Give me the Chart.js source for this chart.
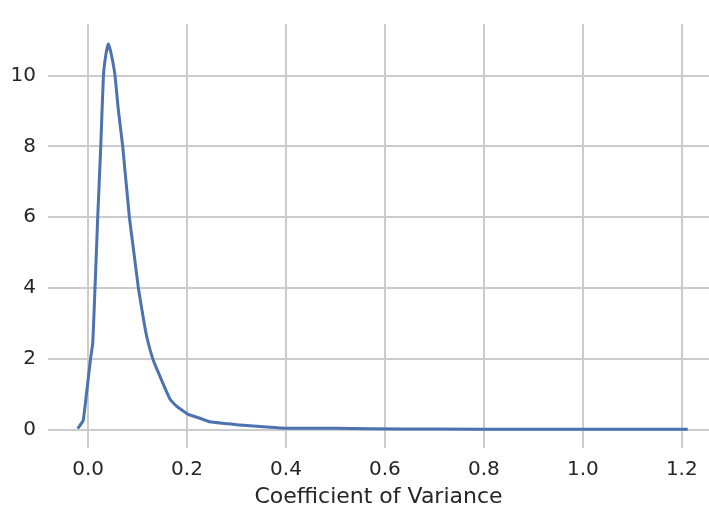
<!DOCTYPE html>
<html>
<head>
<meta charset="utf-8">
<script src="https://cdn.jsdelivr.net/npm/chart.js@4"></script>
<style>
  html, body { margin: 0; padding: 0; background: #fff; overflow: hidden; }
</style>
</head>
<body>
<canvas id="kdeChart" width="709" height="510"></canvas>
<script>
// KDE curve
const cvValues = [-0.021, -0.010, -0.005, 0.005, 0.0095, 0.014, 0.0195, 0.0256, 0.031, 0.036, 0.041, 0.047, 0.0545, 0.061, 0.070, 0.0835, 0.0926, 0.1017, 0.111, 0.1185, 0.132, 0.150, 0.166, 0.179, 0.2026, 0.226, 0.246, 0.30, 0.368, 0.40, 0.50, 0.57, 0.70, 0.90, 1.10, 1.212];
const density = [0.03, 0.25, 0.8, 2.0, 2.45, 4.0, 6.0, 8.0, 10.0, 10.6, 10.9, 10.6, 10.0, 9.05, 8.0, 6.0, 5.0, 4.0, 3.2, 2.63, 1.95, 1.35, 0.85, 0.66, 0.43, 0.32, 0.22, 0.14, 0.065, 0.04, 0.035, 0.025, 0.015, 0.01, 0.01, 0.01];
const xTicks = [0.0, 0.2, 0.4, 0.6, 0.8, 1.0, 1.2];
const yTicks = [0, 2, 4, 6, 8, 10];

const points = cvValues.map((x, i) => ({ x: x, y: density[i] }));
const textColor = '#262626';
const gridColor = '#cccccc';

const ctx = document.getElementById('kdeChart').getContext('2d');
new Chart(ctx, {
    type: 'line',
    data: {
        datasets: [{
            data: points,
            borderColor: '#4c72b0',
            borderWidth: 3,
            pointRadius: 0,
            tension: 0.1,
            fill: false
        }]
    },
    options: {
        responsive: false,
        animation: false,
        layout: { padding: { top: 12, left: 0, right: 0, bottom: 0 } },
        plugins: { legend: { display: false }, tooltip: { enabled: false } },
        scales: {
            x: {
                type: 'linear',
                min: -0.081,
                max: 1.255,
                afterBuildTicks: s => { s.ticks = xTicks.map(v => ({ value: v })); },
                afterFit: s => { s.height = 62; },
                grid: { color: gridColor, lineWidth: 2, drawTicks: false },
                border: { display: false },
                ticks: {
                    padding: 10,
                    color: textColor,
                    font: { family: 'DejaVu Sans', size: 20 },
                    callback: v => v.toFixed(1)
                },
                title: {
                    display: true,
                    text: 'Coefficient of Variance',
                    color: textColor,
                    font: { family: 'DejaVu Sans', size: 22 },
                    padding: { top: 2, bottom: 0 }
                }
            },
            y: {
                min: -0.52,
                max: 11.46,
                afterBuildTicks: s => { s.ticks = yTicks.map(v => ({ value: v })); },
                afterFit: s => { s.width = 48; },
                grid: { color: gridColor, lineWidth: 2, drawTicks: false },
                border: { display: false },
                ticks: {
                    padding: 12,
                    color: textColor,
                    font: { family: 'DejaVu Sans', size: 20 },
                    callback: v => String(v)
                }
            }
        }
    }
});
</script>
</body>
</html>
